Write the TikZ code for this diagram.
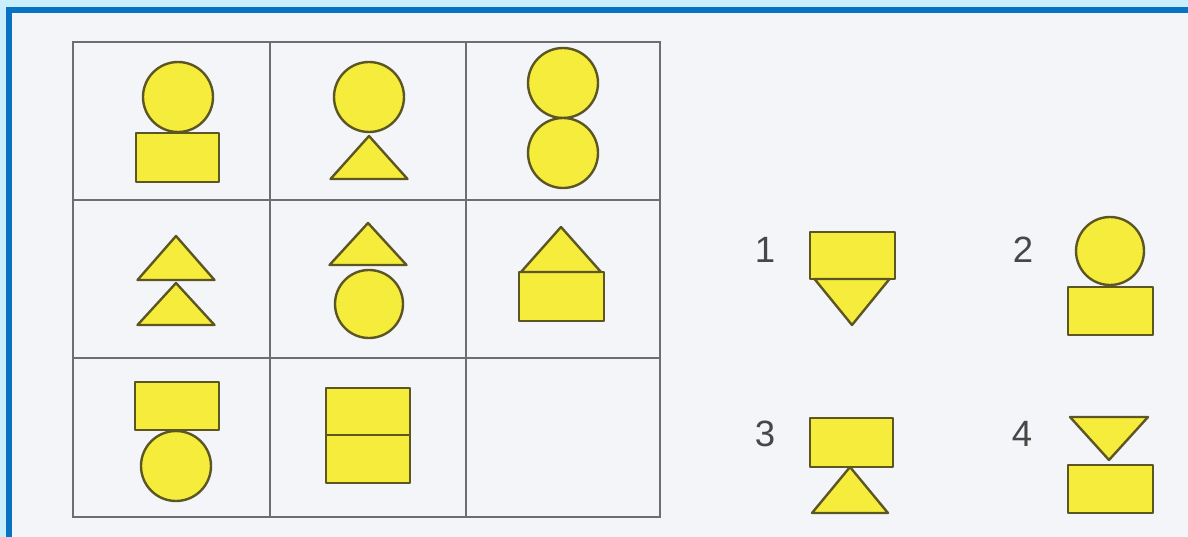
\documentclass[tikz,border=0pt]{standalone}
\usepackage{fontspec}
\setsansfont{Liberation Sans}
\usepackage{xcolor}
\usetikzlibrary{positioning}
\definecolor{skyblue}{HTML}{C9EEFC}
\definecolor{frameblue}{HTML}{0A72C2}
\definecolor{paper}{HTML}{F3F5F8}
\definecolor{figfill}{HTML}{F6EC3C}
\definecolor{figline}{HTML}{5C5524}
\definecolor{gridgray}{HTML}{6E6E70}
\definecolor{numgray}{HTML}{474747}

\begin{document}
\begin{tikzpicture}[
    x=0.025cm, y=-0.025cm,
    fig/.style={fill=figfill,draw=figline,line width=1.7pt,line join=round},
    cell/.style={draw=gridgray,line width=1.3pt},
    num/.style={font=\fontsize{26}{30}\selectfont\sffamily,text=numgray,inner sep=0pt},
]
\useasboundingbox (0,0) rectangle (1188,537);
% Frame
\fill[skyblue] (0,0) rectangle (1188,537);
\fill[frameblue] (6,7) rectangle (1188,537);
\fill[paper] (12,13) rectangle (1188,537);
% Table 3x3
\draw[cell] (73,42) rectangle (660,517);
\foreach \x in {270,466} {
    \draw[cell] (\x,42) -- (\x,517);
}
\foreach \y in {200,358} {
    \draw[cell] (73,\y) -- (660,\y);
}
% Rectangles: (x1, y1, x2, y2)
\foreach \xa/\ya/\xb/\yb in {
    136/133/219/182,
    519/272/604/321,
    135/382/219/430,
    326/388/410/435,
    326/435/410/483,
    810/232/895/279,
    1068/287/1153/335,
    810/418/893/467,
    1068/465/1153/513
} {
    \draw[fig] (\xa,\ya) rectangle (\xb,\yb);
}
% Circles: (x_center, y_center, radius)
\foreach \cx/\cy/\r in {
    178/97/35,
    369/97/35,
    563/83/35,
    563/153/35,
    369/304/34,
    176/466/35,
    1110/251/34
} {
    \draw[fig] (\cx,\cy) circle[radius=\r];
}
% Triangles: (x_apex, y_apex, y_base, half width)
\foreach \tx/\ty/\by/\hw in {
    369/136/179/38.5,
    176/236/280/38.5,
    176/283/325/38.5,
    368/223/265/38.5,
    561/227/272/40,
    850/467/513/38,
    852/325/279/37.5,
    1109/460/417/39
} {
    \draw[fig] (\tx,\ty) -- (\tx+\hw,\by) -- (\tx-\hw,\by) -- cycle;
}
% Answer numbers
\node[num] (ansone)   at (765,250)  {1};
\node[num] (anstwo)   at (1023,250) {2};
\node[num] (ansthree) at (765,434)  {3};
\node[num] (ansfour)  at (1022,434) {4};
\end{tikzpicture}
\end{document}
